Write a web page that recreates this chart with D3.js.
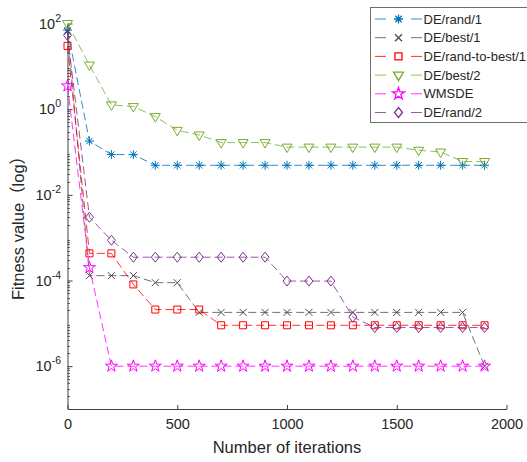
<!DOCTYPE html>
<html>
<head>
  <meta charset="utf-8">
  <title>Fitness value vs iterations</title>
  <script src="https://d3js.org/d3.v7.min.js"></script>
  <style>
    body { margin: 0; background: #fff; }
    text { font-family: Arial, "Liberation Sans", "Noto Sans CJK SC", sans-serif; fill: #262626; }
  </style>
</head>
<body>
  <svg id="chart"></svg>
  <script>
    // iterations (x) shared by all series
    const iterations = [0, 100, 200, 300, 400, 500, 600, 700, 800, 900,
                        1000, 1100, 1200, 1300, 1400, 1500, 1600, 1700, 1800, 1900];

    // fitness values
    const deRand1 = [70, 0.18, 0.087, 0.087, 0.049, 0.049, 0.049, 0.049, 0.049, 0.049,
                     0.049, 0.049, 0.049, 0.049, 0.049, 0.049, 0.049, 0.049, 0.049, 0.049];
    const deBest1 = [65, 1.3e-4, 1.3e-4, 1.3e-4, 8.9e-5, 8.9e-5, 1.8e-5, 1.8e-5, 1.8e-5, 1.8e-5,
                     1.8e-5, 1.8e-5, 1.8e-5, 1.8e-5, 1.8e-5, 1.8e-5, 1.8e-5, 1.8e-5, 1.8e-5, 1e-6];
    const deRandToBest1 = [30, 4.3e-4, 4.3e-4, 8.1e-5, 2.1e-5, 2.1e-5, 2.1e-5, 9e-6, 9e-6, 9e-6,
                           9e-6, 9e-6, 9e-6, 9e-6, 9e-6, 9e-6, 9e-6, 9e-6, 9e-6, 9e-6];
    const deBest2 = [100, 10.7, 1.26, 1.15, 0.67, 0.32, 0.25, 0.166, 0.166, 0.166,
                     0.13, 0.13, 0.13, 0.13, 0.13, 0.13, 0.11, 0.1, 0.06, 0.06];
    const wmsde = [3.5, 2e-4, 1e-6, 1e-6, 1e-6, 1e-6, 1e-6, 1e-6, 1e-6, 1e-6,
                   1e-6, 1e-6, 1e-6, 1e-6, 1e-6, 1e-6, 1e-6, 1e-6, 1e-6, 1e-6];
    const deRand2 = [53, 3e-3, 8.7e-4, 3.5e-4, 3.5e-4, 3.5e-4, 3.5e-4, 3.5e-4, 3.5e-4, 3.5e-4,
                     9.7e-5, 9.7e-5, 9.7e-5, 1.4e-5, 8e-6, 8e-6, 8e-6, 8e-6, 8e-6, 8e-6];

    const seriesNames = ["DE/rand/1", "DE/best/1", "DE/rand-to-best/1", "DE/best/2", "WMSDE", "DE/rand/2"];
    const seriesValues = [deRand1, deBest1, deRandToBest1, deBest2, wmsde, deRand2];
    const seriesColors = ["#0072BD", "#4d4d4d", "#FF0000", "#77AC30", "#FF00FF", "#7E2F8E"];
    const seriesMarkers = ["asterisk", "x", "square", "triangleDown", "star", "diamond"];

    const xTicks = [0, 500, 1000, 1500, 2000];
    const yTickExps = [2, 0, -2, -4, -6];

    const width = 527, height = 462;
    const margin = { top: 23.5, right: 20.5, bottom: 53, left: 67.5 };

    const svg = d3.select("#chart").attr("width", width).attr("height", height);

    const x = d3.scaleLinear().domain([0, 2000]).range([margin.left, width - margin.right]);
    const y = d3.scaleLog().domain([1e-7, 1e2]).range([height - margin.bottom, margin.top]);

    // marker shapes (MATLAB-like)
    function markerPath(kind) {
      const p = d3.path();
      if (kind === "asterisk") {
        const r = 4.5, d = 3.2;
        p.moveTo(-r, 0); p.lineTo(r, 0);
        p.moveTo(0, -r); p.lineTo(0, r);
        p.moveTo(-d, -d); p.lineTo(d, d);
        p.moveTo(-d, d); p.lineTo(d, -d);
      } else if (kind === "x") {
        const d = 3.5;
        p.moveTo(-d, -d); p.lineTo(d, d);
        p.moveTo(-d, d); p.lineTo(d, -d);
      } else if (kind === "square") {
        p.rect(-3.5, -3.5, 7, 7);
      } else if (kind === "triangleDown") {
        p.moveTo(-5, -3); p.lineTo(5, -3); p.lineTo(0, 5.5); p.closePath();
      } else if (kind === "diamond") {
        p.moveTo(0, -5); p.lineTo(4, 0); p.lineTo(0, 5); p.lineTo(-4, 0); p.closePath();
      } else if (kind === "star") {
        return d3.symbol(d3.symbolStar, 45)();
      }
      return p.toString();
    }

    // axes
    const axisColor = "#404040";
    const xAxis = svg.append("g")
      .attr("transform", `translate(0,${y.range()[0]})`)
      .call(d3.axisBottom(x).tickValues(xTicks).tickFormat(d3.format("d"))
        .tickSizeInner(-4).tickSizeOuter(0).tickPadding(10));
    xAxis.select(".domain").attr("stroke", axisColor);
    xAxis.selectAll(".tick line").attr("stroke", axisColor);
    xAxis.selectAll(".tick text").attr("font-size", 14.5)
      .attr("font-family", "Arial, 'Liberation Sans', sans-serif").attr("fill", "#262626");

    const yAxis = svg.append("g")
      .attr("transform", `translate(${margin.left},0)`)
      .call(d3.axisLeft(y).tickValues(yTickExps.map(e => Math.pow(10, e))).tickSizeInner(-5).tickSizeOuter(0).tickFormat(""));
    yAxis.select(".domain").attr("stroke", axisColor);
    yAxis.selectAll(".tick line").attr("stroke", axisColor);

    // minor log ticks
    const minor = [];
    for (let e = -7; e < 2; e++) for (let m = 2; m <= 9; m++) minor.push(m * Math.pow(10, e));
    svg.append("g").selectAll("line").data(minor).join("line")
      .attr("x1", margin.left).attr("x2", margin.left + 2.5)
      .attr("y1", d => Math.round(y(d)) + 0.5).attr("y2", d => Math.round(y(d)) + 0.5)
      .attr("stroke", axisColor).attr("stroke-width", 0.8);

    // y tick labels 10^n
    const yLabels = svg.append("g").selectAll("text").data(yTickExps).join("text")
      .attr("x", 61).attr("y", d => y(Math.pow(10, d)) + 5)
      .attr("text-anchor", "end").attr("font-size", 14.5);
    yLabels.append("tspan").text("10");
    yLabels.append("tspan").attr("dy", -7).attr("font-size", 10.5).text(d => d);

    // axis titles
    svg.append("text")
      .attr("x", 287).attr("y", 453)
      .attr("text-anchor", "middle").attr("font-size", 16.5)
      .text("Number of iterations");
    svg.append("text")
      .attr("transform", "translate(24,224) rotate(-90)")
      .attr("text-anchor", "middle").attr("font-size", 16.5)
      .text("Fitness value（log）");

    // series
    const line = d3.line().x((d, i) => x(iterations[i])).y(d => y(d));
    seriesValues.forEach((vals, k) => {
      const g = svg.append("g");
      g.append("path").datum(vals)
        .attr("d", line)
        .attr("fill", "none")
        .attr("stroke", seriesColors[k])
        .attr("stroke-width", 1)
        .attr("stroke-dasharray", "8,4")
        .attr("stroke-opacity", 0.8);
      g.selectAll(".m").data(vals).join("path")
        .attr("class", "m")
        .attr("transform", (d, i) => `translate(${x(iterations[i])},${y(d)})`)
        .attr("d", markerPath(seriesMarkers[k]))
        .attr("fill", "none")
        .attr("stroke", seriesColors[k])
        .attr("stroke-width", 1);
    });

    // legend
    const lg = svg.append("g");
    lg.append("rect")
      .attr("x", 370.5).attr("y", 7.5).attr("width", 200).attr("height", 115)
      .attr("fill", "#fff").attr("stroke", "#6e6e6e").attr("stroke-width", 1);
    seriesNames.forEach((name, k) => {
      const cy = 19 + k * 18.7;
      const row = lg.append("g");
      row.append("line").attr("x1", 375).attr("x2", 386).attr("y1", cy).attr("y2", cy)
        .attr("stroke", seriesColors[k]).attr("stroke-opacity", 0.8);
      row.append("line").attr("x1", 411).attr("x2", 422).attr("y1", cy).attr("y2", cy)
        .attr("stroke", seriesColors[k]).attr("stroke-opacity", 0.8);
      row.append("path")
        .attr("transform", `translate(398.5,${cy})`)
        .attr("d", markerPath(seriesMarkers[k]))
        .attr("fill", "none").attr("stroke", seriesColors[k]).attr("stroke-width", 1.3);
      row.append("text").attr("x", 423.5).attr("y", cy + 4.5)
        .attr("font-size", 13).text(name);
    });
  </script>
</body>
</html>
